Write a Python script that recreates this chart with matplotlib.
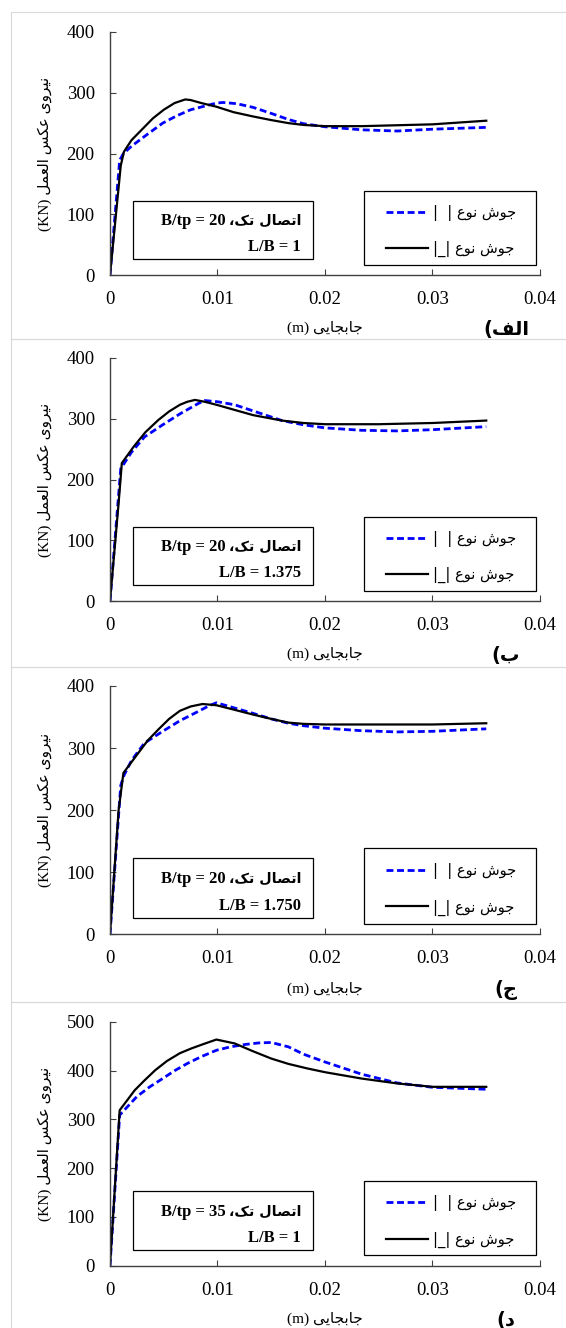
import numpy as np
import matplotlib
matplotlib.use("Agg")
import matplotlib.pyplot as plt
from matplotlib.patches import Rectangle

# ---- data (displacement m, force kN) ----
x_a_dash = [0, 0.0009, 0.00125, 0.002, 0.0032, 0.0049, 0.0062, 0.0075, 0.0088, 0.0099, 0.0105, 0.0118, 0.0133, 0.015, 0.0166, 0.018, 0.020, 0.0234, 0.0267, 0.030, 0.035]
y_a_dash = [0, 189, 200, 212, 228, 250, 262, 272, 278, 283, 284, 282, 276, 266, 256, 249, 244, 239, 237, 240, 243]
x_a_solid = [0, 0.001, 0.0013, 0.002, 0.003, 0.004, 0.005, 0.006, 0.007, 0.0075, 0.0085, 0.0099, 0.0115, 0.0133, 0.015, 0.0166, 0.018, 0.020, 0.0234, 0.030, 0.035]
y_a_solid = [0, 180, 203, 222, 240, 258, 272, 283, 289, 288, 283, 277, 268, 261, 255, 250, 247, 245, 245, 248, 254]

x_b_dash = [0, 0.001, 0.0013, 0.002, 0.0032, 0.0049, 0.0065, 0.0082, 0.0088, 0.010, 0.0116, 0.0138, 0.016, 0.018, 0.020, 0.0234, 0.0267, 0.030, 0.035]
y_b_dash = [0, 218, 226, 245, 270, 290, 308, 325, 330, 328, 323, 310, 297, 290, 285, 281, 280, 282, 287]
x_b_solid = [0, 0.0008, 0.0011, 0.0022, 0.0033, 0.0045, 0.0055, 0.0065, 0.0072, 0.0079, 0.0088, 0.0099, 0.0115, 0.0133, 0.016, 0.018, 0.020, 0.025, 0.030, 0.035]
y_b_solid = [0, 161, 227, 254, 278, 298, 312, 323, 328, 331, 328, 323, 315, 306, 297, 293, 291, 291, 293, 297]

x_c_dash = [0, 0.001, 0.0013, 0.002, 0.0032, 0.0049, 0.0065, 0.0082, 0.0092, 0.0099, 0.0115, 0.0133, 0.015, 0.0166, 0.018, 0.020, 0.0234, 0.0267, 0.030, 0.035]
y_c_dash = [0, 240, 256, 280, 308, 327, 344, 359, 368, 373, 365, 356, 347, 340, 336, 332, 328, 326, 327, 331]
x_c_solid = [0, 0.0008, 0.00125, 0.0025, 0.0035, 0.0045, 0.0055, 0.0065, 0.0075, 0.0086, 0.0099, 0.0115, 0.0133, 0.015, 0.0166, 0.018, 0.020, 0.0267, 0.030, 0.035]
y_c_solid = [0, 200, 260, 289, 312, 330, 347, 360, 367, 371, 369, 362, 354, 347, 341, 339, 338, 338, 338, 340]

x_d_dash = [0, 0.0009, 0.0025, 0.0037, 0.0049, 0.006, 0.0072, 0.0085, 0.0099, 0.0112, 0.0126, 0.0138, 0.015, 0.0166, 0.018, 0.020, 0.0234, 0.0267, 0.030, 0.035]
y_d_dash = [0, 309, 347, 367, 384, 400, 415, 429, 442, 449, 454, 457, 458, 449, 434, 418, 393, 375, 366, 362]
x_d_solid = [0, 0.0009, 0.0023, 0.0032, 0.0042, 0.0053, 0.0065, 0.0076, 0.0086, 0.0099, 0.0116, 0.0133, 0.015, 0.0166, 0.0183, 0.020, 0.0234, 0.0267, 0.030, 0.035]
y_d_solid = [0, 319, 360, 380, 401, 420, 436, 446, 454, 464, 456, 440, 425, 414, 405, 397, 384, 374, 367, 367]

x_ticks = [0, 0.01, 0.02, 0.03, 0.04]
x_ticklabels = ["0", "0.01", "0.02", "0.03", "0.04"]
panel_letters = ["الف", "ب", "ج", "د"]
bt_values = ["20", "20", "20", "35"]
lb_values = ["1", "1.375", "1.750", "1"]
y_max = [400, 400, 400, 500]

# ---- minimal Arabic/Persian shaping (matplotlib has no text shaping) ----
FORMS = {
    "ا": (0xFE8D, 0xFE8E, None, None), "ب": (0xFE8F, 0xFE90, 0xFE91, 0xFE92),
    "ت": (0xFE95, 0xFE96, 0xFE97, 0xFE98), "ج": (0xFE9D, 0xFE9E, 0xFE9F, 0xFEA0),
    "د": (0xFEA9, 0xFEAA, None, None), "ر": (0xFEAD, 0xFEAE, None, None),
    "س": (0xFEB1, 0xFEB2, 0xFEB3, 0xFEB4), "ش": (0xFEB5, 0xFEB6, 0xFEB7, 0xFEB8),
    "ص": (0xFEB9, 0xFEBA, 0xFEBB, 0xFEBC), "ع": (0xFEC9, 0xFECA, 0xFECB, 0xFECC),
    "ف": (0xFED1, 0xFED2, 0xFED3, 0xFED4), "ل": (0xFEDD, 0xFEDE, 0xFEDF, 0xFEE0),
    "م": (0xFEE1, 0xFEE2, 0xFEE3, 0xFEE4), "ن": (0xFEE5, 0xFEE6, 0xFEE7, 0xFEE8),
    "و": (0xFEED, 0xFEEE, None, None), "ی": (0xFBFC, 0xFBFD, 0xFBFE, 0xFBFF),
    "ک": (0xFB8E, 0xFB8F, 0xFB90, 0xFB91),
}


def shape(s):
    out = []
    for i, c in enumerate(s):
        if c not in FORMS:
            out.append(c)
            continue
        prev = s[i - 1] if i > 0 else ""
        nxt = s[i + 1] if i + 1 < len(s) else ""
        jp = prev in FORMS and FORMS[prev][2] is not None
        jn = FORMS[c][2] is not None and nxt in FORMS
        f = FORMS[c]
        if jp and jn:
            code = f[3]
        elif jp:
            code = f[1]
        elif jn:
            code = f[2]
        else:
            code = f[0]
        out.append(chr(code))
    return "".join(out)


def rtl(s):
    return shape(s)[::-1]


FAM = ["Liberation Serif", "DejaVu Sans"]
plt.rcParams["font.family"] = FAM
plt.rcParams["axes.unicode_minus"] = False

W, H = 566, 1328
fig = plt.figure(figsize=(W / 100, H / 100), dpi=100)
renderer = fig.canvas.get_renderer()

AX_L, AX_R = 110, 540
AXW = AX_R - AX_L
# axes boxes in pixels: (top_px, bottom_px)
boxes = [(32, 275), (358, 601), (686, 934.3), (1022, 1265.7)]
frames = [12, 339, 667, 1002]
series = [
    (x_a_dash, y_a_dash, x_a_solid, y_a_solid),
    (x_b_dash, y_b_dash, x_b_solid, y_b_solid),
    (x_c_dash, y_c_dash, x_c_solid, y_c_solid),
    (x_d_dash, y_d_dash, x_d_solid, y_d_solid),
]

# light gray panel frames
for i, top in enumerate(frames):
    bot = frames[i + 1] if i + 1 < len(frames) else H + 5
    fig.add_artist(Rectangle((11 / W, 1 - bot / H), 2, (bot - top) / H,
                             transform=fig.transFigure, fill=False,
                             edgecolor="#d9d9d9", lw=0.8))

axis_col = "#404040"
for i, (top, bot) in enumerate(boxes):
    ax = fig.add_axes([AX_L / W, 1 - bot / H, AXW / W, (bot - top) / H])
    xd, yd, xs, ys = series[i]
    ld, = ax.plot(xd, yd, color="#0000ff", lw=2.0, linestyle=(0, (2.5, 1.3)))
    ls, = ax.plot(xs, ys, color="black", lw=1.6)
    ax.set_xlim(0, 0.04)
    ax.set_ylim(0, y_max[i])
    ax.set_xticks(x_ticks)
    ax.set_xticklabels(x_ticklabels)
    ax.set_yticks(np.arange(0, y_max[i] + 1, 100))
    for s in ("top", "right"):
        ax.spines[s].set_visible(False)
    for s in ("left", "bottom"):
        ax.spines[s].set_color(axis_col)
        ax.spines[s].set_linewidth(1.0)
    ax.tick_params(axis="both", direction="in", length=4, color=axis_col,
                   labelsize=13.5, labelcolor="black")
    ax.tick_params(axis="y", pad=11)
    ax.tick_params(axis="x", pad=11.5)

    ax.set_ylabel("(KN) " + rtl("نیروی عکس العمل"), fontsize=11)
    ax.yaxis.set_label_coords((45 - AX_L) / AXW, 0.5)
    ax.yaxis.label.set_va("center")
    ax.set_xlabel("(m) " + rtl("جابجایی"), fontsize=11)
    ax.xaxis.set_label_coords(0.5, -0.218)
    ax.xaxis.label.set_va("center")

    ax.text((506 - AX_L) / AXW, -0.226, "(" + rtl(panel_letters[i]),
            transform=ax.transAxes, ha="center", va="center", fontsize=14,
            fontweight="bold", family=["DejaVu Sans"])

    # info box: Arabic part (sans) at right, Latin part (serif) to its left
    ax.add_patch(Rectangle((0.0535, 0.066), 0.4185, 0.24, transform=ax.transAxes,
                           fill=False, edgecolor="black", lw=0.9))
    t_ar = ax.text(0.444, 0.222, rtl("اتصال تک،"), transform=ax.transAxes,
                   ha="right", va="center", fontsize=10.3, fontweight="bold",
                   family=["DejaVu Sans"])
    bb = t_ar.get_window_extent(renderer)
    x_left = ax.transAxes.inverted().transform((bb.x0 - 3, 0))[0]
    ax.text(x_left, 0.222, "B/tp = " + bt_values[i], transform=ax.transAxes,
            ha="right", va="center", fontsize=12, fontweight="bold")
    ax.text(0.444, 0.115, "L/B = " + lb_values[i], transform=ax.transAxes,
            ha="right", va="center", fontsize=12, fontweight="bold")

    # legend: content without frame, box drawn separately
    ax.add_patch(Rectangle(((364 - AX_L) / AXW, 0.043), (536 - 364) / AXW, 0.303,
                           transform=ax.transAxes, fill=False,
                           edgecolor="black", lw=0.9))
    ax.legend([ld, ls], ["|  | " + rtl("جوش نوع"), "|_| " + rtl("جوش نوع")],
              loc="center", bbox_to_anchor=((451 - AX_L) / AXW, 0.181),
              frameon=False, handlelength=2.9, handletextpad=0.3,
              labelspacing=1.4, borderpad=0, borderaxespad=0,
              prop={"family": ["DejaVu Sans"], "size": 10.5})

fig.savefig("out.png", dpi=100)
